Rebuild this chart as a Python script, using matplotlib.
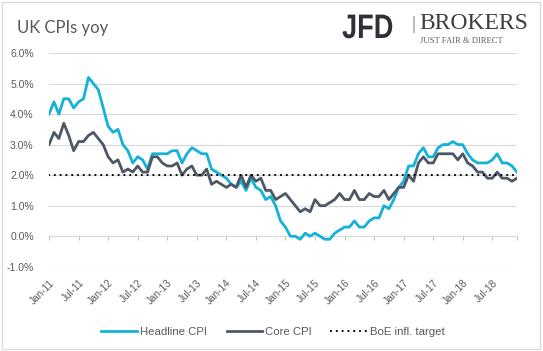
import numpy as np
import matplotlib.pyplot as plt
from matplotlib.patches import Rectangle, PathPatch
from matplotlib.textpath import TextPath
from matplotlib.font_manager import FontProperties
from matplotlib.transforms import Affine2D

# monthly yoy %, Jan-11 .. Dec-18
headline = [4.0, 4.4, 4.0, 4.5, 4.5, 4.2, 4.4, 4.5, 5.2, 5.0, 4.8, 4.2,
            3.6, 3.4, 3.5, 3.0, 2.8, 2.4, 2.6, 2.5, 2.2, 2.7, 2.7, 2.7,
            2.7, 2.8, 2.8, 2.4, 2.7, 2.9, 2.8, 2.7, 2.7, 2.2, 2.1, 2.0,
            1.9, 1.7, 1.6, 1.8, 1.5, 1.9, 1.6, 1.5, 1.2, 1.3, 1.0, 0.5,
            0.3, 0.0, 0.0, -0.1, 0.1, 0.0, 0.1, 0.0, -0.1, -0.1, 0.1, 0.2,
            0.3, 0.3, 0.5, 0.3, 0.3, 0.5, 0.6, 0.6, 1.0, 0.9, 1.2, 1.6,
            1.8, 2.3, 2.3, 2.7, 2.9, 2.6, 2.6, 2.9, 3.0, 3.0, 3.1, 3.0,
            3.0, 2.7, 2.5, 2.4, 2.4, 2.4, 2.5, 2.7, 2.4, 2.4, 2.3, 2.1]
core = [3.0, 3.4, 3.2, 3.7, 3.3, 2.8, 3.1, 3.1, 3.3, 3.4, 3.2, 3.0,
        2.6, 2.4, 2.5, 2.1, 2.2, 2.1, 2.3, 2.1, 2.1, 2.6, 2.6, 2.4,
        2.3, 2.3, 2.4, 2.0, 2.2, 2.3, 2.0, 2.0, 2.2, 1.7, 1.8, 1.7,
        1.6, 1.7, 1.6, 2.0, 1.6, 2.0, 1.8, 1.9, 1.5, 1.5, 1.2, 1.3,
        1.4, 1.2, 1.0, 0.8, 0.9, 0.8, 1.2, 1.0, 1.0, 1.1, 1.2, 1.4,
        1.2, 1.2, 1.5, 1.2, 1.2, 1.4, 1.3, 1.3, 1.5, 1.2, 1.4, 1.6,
        1.6, 2.0, 1.8, 2.4, 2.6, 2.4, 2.4, 2.7, 2.7, 2.7, 2.7, 2.5,
        2.7, 2.4, 2.3, 2.1, 2.1, 1.9, 1.9, 2.1, 1.9, 1.9, 1.8, 1.9]
target = [2.0] * len(headline)
tick_labels = ['Jan-11', 'Jul-11', 'Jan-12', 'Jul-12', 'Jan-13', 'Jul-13', 'Jan-14', 'Jul-14',
               'Jan-15', 'Jul-15', 'Jan-16', 'Jul-16', 'Jan-17', 'Jul-17', 'Jan-18', 'Jul-18']

grey = '#595959'
plt.rcParams['font.family'] = ['Liberation Sans', 'DejaVu Sans']

fig = plt.figure(figsize=(5.43, 3.51), dpi=100)
fig.patches.append(Rectangle((0.004, 0.006), 0.991, 0.988, transform=fig.transFigure,
                             fill=False, edgecolor='#D9D9D9', lw=0.9))
ax = fig.add_axes([0.0903, 0.240, 0.8617, 0.609])

x = np.arange(len(headline))
ax.plot(x, headline, color='#14B1D8', lw=2.0, label='Headline CPI', solid_joinstyle='round')
ax.plot(x, core, color='#4D5864', lw=2.0, label='Core CPI', solid_joinstyle='round')
ax.plot(x, target, color='black', lw=1.6, linestyle=(0, (0.01, 2.6)),
        dash_capstyle='round', label='BoE infl. target')

ax.set_xlim(0, len(headline) - 1)
ax.set_ylim(-1, 6)
ax.set_yticks(np.arange(-1, 7, 1))
ax.set_yticklabels(['%.1f%%' % v for v in np.arange(-1, 7, 1)])
ax.grid(axis='y', color='#D9D9D9', lw=0.8)
ax.set_axisbelow(True)
for s in ax.spines.values():
    s.set_visible(False)
ax.tick_params(axis='y', length=0, pad=11, labelsize=7.5, labelcolor=grey)

tpos = list(range(0, len(headline), 6))
ax.set_xticks(tpos)
ax.set_xticklabels(tick_labels, rotation=45, ha='right', rotation_mode='anchor')
ax.tick_params(axis='x', length=0, pad=8, labelsize=7.2, labelcolor=grey)

# category axis crossing at 0%
sec = ax.secondary_xaxis(1 / 7)
sec.set_xticks(tpos + [len(headline) - 1])
sec.set_xticklabels([])
sec.tick_params(axis='x', length=3, width=0.8, color='#BFBFBF', direction='out')
sec.spines['bottom'].set_color('#D9D9D9')
sec.spines['bottom'].set_linewidth(0.8)

fig.text(0.031, 0.905, 'UK CPIs yoy', fontsize=12, color=grey, family=['Lato', 'DejaVu Sans'])

# logo: condensed bold "JFD" drawn as a squeezed text path (pixel coords, y up)
jfd = TextPath((0, 0), 'JFD', size=34, prop=FontProperties(family='Liberation Sans', weight='bold'))
jfd_tr = Affine2D().scale(0.8, 1.0).translate(342, 351 - 38)
fig.patches.append(PathPatch(jfd.transformed(jfd_tr), transform=None,
                             facecolor='#2E3238', edgecolor='none'))
fig.text(0.757, 0.917, '|', fontsize=14, color='#7F7F7F', family=['Liberation Serif'])
fig.text(0.773, 0.916, 'BROKERS', fontsize=17, color='#3A3F45', family=['Liberation Serif'])
fig.text(0.774, 0.877, 'JUST FAIR & DIRECT', fontsize=6.2, color='#5A5F66',
         family=['Liberation Serif'])

fig.legend(loc='center', bbox_to_anchor=(0.503, 0.054), ncol=3, frameon=False,
           fontsize=8.2, labelcolor=grey, handlelength=3.1, handletextpad=0.3,
           columnspacing=1.7)

fig.savefig('out.png', dpi=100)
